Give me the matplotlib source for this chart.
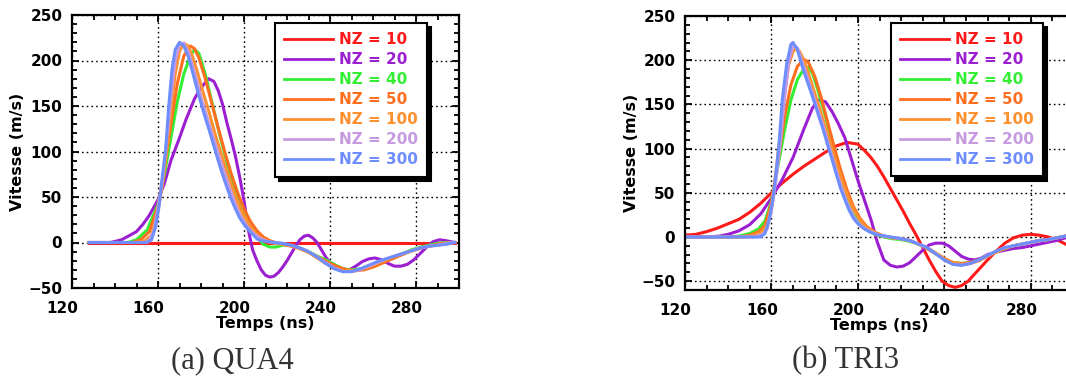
import matplotlib
matplotlib.use('Agg')
import matplotlib.pyplot as plt
from matplotlib.ticker import MultipleLocator
from matplotlib.transforms import ScaledTranslation

plt.rcParams['font.family'] = ['DejaVu Sans']
plt.rcParams['font.weight'] = 'bold'

labels = ['NZ = 10', 'NZ = 20', 'NZ = 40', 'NZ = 50', 'NZ = 100', 'NZ = 200', 'NZ = 300']
colors = ['#ff1a1a', '#9b1fd1', '#33ee33', '#ff6e1e', '#ff9030', '#c69ae0', '#6e8eff']

# ---- (a) QUA4 ----
qua_t10 = [128, 298]
qua_v10 = [0, 0]
qua_t20 = [128, 138, 143, 147, 150, 153, 156, 160, 163, 166, 170, 173, 177, 180, 183.5, 186, 188, 190,
           192, 194, 196, 198, 200, 202, 204, 206, 208, 210, 212, 214, 216, 218, 220, 222, 224, 226,
           228, 230, 232, 234, 236, 238, 240, 243, 246, 249, 252, 255, 258, 261, 264, 267, 270, 273,
           276, 279, 282, 285, 288, 291, 294, 298]
qua_v20 = [0, 0, 3, 8, 12, 20, 30, 47, 65, 90, 115, 135, 158, 170, 180, 177, 167, 152,
           132, 114, 95, 72, 46, 14, -8, -20, -30, -36, -38, -37, -33, -27, -20, -12, -4, 3,
           7, 8, 5, 0, -8, -16, -22, -28, -31, -30, -26, -21, -18, -17, -19, -23, -26, -26,
           -24, -19, -12, -5, 1, 3, 2, 0]
qua_t40 = [128, 146, 150, 155, 160, 163, 166, 169, 172, 175, 177, 179, 182, 185, 188, 191, 194, 197,
           200, 203, 206, 209, 212, 215, 218, 222, 226, 230, 234, 238, 242, 246, 250, 254, 258, 262,
           266, 270, 274, 278, 282, 286, 290, 294, 298]
qua_v40 = [0, 0, 3, 14, 42, 75, 115, 155, 185, 205, 212, 208, 185, 155, 125, 97, 72, 50,
           32, 17, 6, -2, -5, -5, -3, -3, -6, -10, -15, -19, -24, -29, -30, -29, -28, -25,
           -20, -16, -12, -8, -5, -3, -1, 0, 0]
qua_t50 = [128, 148, 152, 156, 160, 163, 166, 169, 172, 175, 177, 179, 182, 185, 188, 191, 194, 197,
           200, 203, 206, 209, 212, 216, 220, 224, 228, 232, 236, 240, 244, 248, 252, 256, 260, 264,
           268, 272, 276, 280, 284, 288, 292, 298]
qua_v50 = [0, 0, 3, 12, 40, 82, 130, 175, 205, 216, 213, 203, 180, 153, 126, 100, 76, 55,
           37, 23, 13, 6, 2, -1, -3, -5, -8, -13, -18, -23, -27, -30, -31, -30, -27, -23,
           -19, -15, -11, -8, -5, -3, -1, 0]
qua_t100 = [128, 150, 154, 157, 160, 162, 164, 166, 168, 170, 172, 174, 176, 178, 180, 182, 184, 186,
            188, 190, 192, 194, 196, 198, 200, 202, 204, 206, 208, 211, 214, 218, 222, 226, 230, 234,
            238, 242, 246, 250, 254, 258, 262, 266, 270, 274, 278, 282, 286, 290, 294, 298]
qua_v100 = [0, 0, 2, 8, 35, 62, 100, 145, 185, 210, 219, 216, 205, 190, 173, 157, 141, 124,
            108, 93, 78, 64, 51, 39, 29, 21, 14, 9, 5, 1, -1, -2, -4, -7, -11, -17,
            -23, -28, -31, -31, -30, -27, -23, -19, -15, -12, -9, -6, -4, -3, -1, 0]
qua_t200 = [128, 154, 156, 158, 160, 162, 164, 166, 168, 170, 172, 174, 176, 178, 180, 182, 184, 186,
            188, 190, 192, 194, 196, 198, 200, 202, 204, 206, 208, 211, 214, 218, 222, 226, 230, 234,
            238, 242, 246, 250, 254, 258, 262, 266, 270, 274, 278, 282, 286, 290, 294, 298]
qua_v200 = [0, 0, 3, 12, 38, 68, 112, 160, 200, 217, 219, 210, 195, 178, 160, 144, 128, 113,
            98, 83, 69, 55, 42, 31, 23, 16, 11, 7, 4, 1, 0, -1, -3, -6, -10, -16,
            -22, -28, -32, -32, -30, -26, -22, -18, -15, -12, -9, -6, -4, -3, -1, 0]
qua_t300 = [128, 155, 157, 159, 160.5, 162, 163.5, 165, 166.5, 168, 170, 172, 174, 176, 178, 180, 182, 184,
            186, 188, 190, 192, 194, 196, 198, 200, 202, 204, 206, 208, 211, 214, 218, 222, 226, 230,
            234, 238, 242, 246, 250, 254, 258, 262, 266, 270, 274, 278, 282, 286, 290, 294, 298]
qua_v300 = [0, 0, 3, 18, 40, 72, 100, 150, 190, 212, 220, 216, 205, 188, 170, 153, 137, 122,
            106, 90, 75, 61, 48, 37, 27, 20, 14, 9, 4, 2, 1, 0, -1, -3, -6, -10,
            -16, -23, -29, -32, -32, -29, -25, -21, -18, -15, -12, -9, -6, -4, -3, -2, 0]

# ---- (b) TRI3 ----
tri_t10 = [120, 125, 130, 135, 140, 145, 150, 155, 160, 165, 170, 175, 180, 185, 190, 195, 200, 203,
           206, 209, 212, 215, 218, 221, 224, 227, 230, 233, 236, 239, 242, 245, 248, 251, 254, 257,
           260, 264, 268, 272, 276, 280, 284, 288, 292, 296, 300]
tri_v10 = [2, 3, 6, 10, 15, 20, 28, 38, 50, 61, 71, 80, 88, 96, 103, 107, 105, 98,
           90, 80, 68, 55, 42, 29, 15, 2, -12, -26, -39, -50, -55, -57, -55, -50, -42, -34,
           -26, -16, -7, -1, 2, 3, 2, 0, -3, -8, -12]
tri_t20 = [120, 130, 136, 140, 145, 150, 155, 160, 165, 170, 175, 179, 182, 185, 188, 191, 194, 197,
           200, 203, 206, 209, 212, 215, 218, 221, 224, 227, 230, 233, 236, 239, 242, 245, 248, 251,
           254, 257, 260, 264, 268, 272, 276, 280, 284, 288, 292, 296, 300]
tri_v20 = [0, 0, 1, 3, 7, 14, 26, 44, 65, 90, 122, 146, 155, 153, 142, 128, 112, 88,
           64, 42, 20, -6, -26, -32, -34, -33, -29, -22, -15, -9, -7, -7, -10, -16, -22, -25,
           -26, -24, -20, -17, -15, -13, -12, -10, -8, -6, -4, -1, 1]
tri_t40 = [120, 140, 145, 150, 154, 157, 160, 163, 166, 169, 172, 175, 177, 179, 181, 184, 187, 190,
           193, 196, 199, 202, 205, 208, 212, 216, 220, 224, 228, 232, 236, 240, 244, 248, 252, 256,
           260, 264, 268, 272, 276, 280, 284, 288, 292, 296, 300]
tri_v40 = [0, 0, 1, 4, 9, 18, 40, 80, 120, 155, 178, 190, 192, 185, 170, 145, 118, 90,
           63, 40, 24, 13, 7, 3, 0, -2, -3, -5, -8, -13, -19, -25, -29, -30, -29, -26,
           -21, -17, -13, -10, -8, -6, -4, -3, -1, 1, 2]
tri_t50 = [120, 145, 150, 154, 157, 160, 163, 166, 169, 172, 175, 177, 180, 183, 186, 189, 192, 195,
           198, 201, 204, 208, 212, 216, 220, 224, 228, 232, 236, 240, 244, 248, 252, 256, 260, 264,
           268, 272, 276, 280, 284, 288, 292, 296, 300]
tri_v50 = [0, 0, 2, 6, 13, 38, 85, 135, 172, 193, 201, 198, 182, 158, 130, 102, 76, 53,
           34, 21, 12, 5, 1, -1, -2, -4, -8, -13, -19, -25, -29, -30, -29, -26, -21, -17,
           -13, -10, -8, -6, -4, -3, -1, 1, 2]
tri_t100 = [120, 148, 152, 155, 158, 160, 162, 164, 166, 168, 170, 171.5, 173, 175, 177, 180, 183, 186,
            189, 192, 195, 198, 201, 204, 208, 212, 216, 220, 224, 228, 232, 236, 240, 244, 248, 252,
            256, 260, 264, 268, 272, 276, 280, 284, 288, 292, 296, 300]
tri_v100 = [0, 0, 2, 5, 14, 35, 72, 115, 160, 195, 210, 213, 210, 200, 186, 163, 140, 115,
            92, 69, 48, 31, 19, 11, 5, 1, -1, -2, -4, -8, -12, -18, -24, -29, -31, -30,
            -27, -22, -17, -13, -10, -8, -6, -4, -3, -1, 1, 2]
tri_t200 = [120, 152, 156, 158, 160, 162, 164, 166, 168, 170, 172, 174, 176, 178, 180, 182, 184, 186,
            188, 190, 192, 194, 196, 198, 200, 203, 206, 210, 215, 220, 224, 228, 232, 236, 240, 244,
            248, 252, 256, 260, 264, 268, 272, 276, 280, 284, 288, 292, 296, 300]
tri_v200 = [0, 0, 3, 9, 30, 62, 105, 155, 198, 217, 214, 200, 185, 170, 155, 140, 125, 108,
            92, 75, 59, 45, 33, 23, 16, 10, 6, 2, 0, -2, -4, -8, -12, -19, -26, -31,
            -32, -30, -26, -21, -16, -12, -10, -8, -6, -4, -3, -1, 1, 2]
tri_t300 = [120, 150, 155, 157, 159, 160.5, 162, 163.5, 165, 167, 169, 170, 172, 174, 176, 178, 180, 182,
            184, 186, 188, 190, 192, 194, 196, 198, 200, 203, 206, 210, 215, 220, 224, 228, 232, 236,
            240, 244, 248, 252, 256, 260, 264, 268, 272, 276, 280, 284, 288, 292, 296, 300]
tri_v300 = [0, 0, 0, 4, 20, 40, 70, 105, 155, 195, 218, 220, 212, 195, 180, 166, 151, 136,
            121, 104, 88, 71, 55, 42, 30, 21, 15, 9, 5, 2, 0, -2, -4, -8, -12, -19,
            -26, -31, -32, -30, -26, -21, -16, -12, -10, -8, -6, -4, -3, -1, 1, 2]

qua_t = [qua_t10, qua_t20, qua_t40, qua_t50, qua_t100, qua_t200, qua_t300]
qua_v = [qua_v10, qua_v20, qua_v40, qua_v50, qua_v100, qua_v200, qua_v300]
tri_t = [tri_t10, tri_t20, tri_t40, tri_t50, tri_t100, tri_t200, tri_t300]
tri_v = [tri_v10, tri_v20, tri_v40, tri_v50, tri_v100, tri_v200, tri_v300]

fig = plt.figure(figsize=(10.66, 3.78), dpi=100)
ax1 = fig.add_axes([72 / 1066, 90 / 378, 387 / 1066, 273 / 378])
ax2 = fig.add_axes([685 / 1066, 88 / 378, 389 / 1066, 274 / 378])


def draw_panel(ax, ts, vs, ylim, leg_anchor):
    lines = []
    for t, v, lab, c in zip(ts, vs, labels, colors):
        ln, = ax.plot(t, v, color=c, lw=2.2, label=lab, solid_joinstyle='round')
        lines.append(ln)
    ax.set_xlim(120, 300)
    ax.set_ylim(*ylim)
    ax.xaxis.set_major_locator(MultipleLocator(40))
    ax.xaxis.set_minor_locator(MultipleLocator(10))
    ax.yaxis.set_major_locator(MultipleLocator(50))
    ax.yaxis.set_minor_locator(MultipleLocator(10))
    ax.tick_params(which='both', direction='in', top=True, right=True, width=1.3,
                   labelsize=11, color='k')
    ax.tick_params(which='major', length=5)
    ax.tick_params(which='minor', length=3.5)
    ax.tick_params(axis='x', pad=9.5)
    ax.tick_params(axis='y', pad=7)
    for s in ax.spines.values():
        s.set_linewidth(1.6)
    ax.grid(True, which='major', color='k', lw=1.0, ls=(0, (1.2, 2.2)))
    ax.set_axisbelow(True)
    # labels of the x ticks sit a little to the left of their ticks
    shift = ScaledTranslation(-9.5 / 100, 0, fig.dpi_scale_trans)
    for lbl in ax.get_xticklabels():
        lbl.set_transform(lbl.get_transform() + shift)
    ax.set_xlabel('Temps (ns)', fontsize=11.5, fontweight='bold', labelpad=0)
    ax.set_ylabel('Vitesse (m/s)', fontsize=11.5, fontweight='bold', labelpad=2)
    leg = ax.legend(loc='upper right', bbox_to_anchor=leg_anchor, borderaxespad=0,
                    fancybox=False, edgecolor='k', framealpha=1,
                    shadow={'ox': 3, 'oy': -3, 'color': 'k', 'alpha': 1},
                    prop={'family': 'DejaVu Sans', 'weight': 'bold', 'size': 11},
                    handlelength=3.2, handletextpad=0.35, labelspacing=0.33,
                    borderpad=0.6)
    leg.get_frame().set_linewidth(1.5)
    for txt, ln in zip(leg.get_texts(), lines):
        txt.set_color(ln.get_color())
    for h in leg.legend_handles:
        h.set_linewidth(2)


draw_panel(ax1, qua_t, qua_v, (-50, 250), (0.917, 0.971))
draw_panel(ax2, tri_t, tri_v, (-60, 250), (0.920, 0.975))

fig.text(232 / 1066, 17 / 378, '(a) QUA4', family='Liberation Serif', fontweight='normal',
         fontsize=22, ha='center', va='center', color='#333333')
fig.text(846 / 1066, 17 / 378, '(b) TRI3', family='Liberation Serif', fontweight='normal',
         fontsize=22, ha='center', va='center', color='#333333')

fig.savefig('out.png', dpi=100)
